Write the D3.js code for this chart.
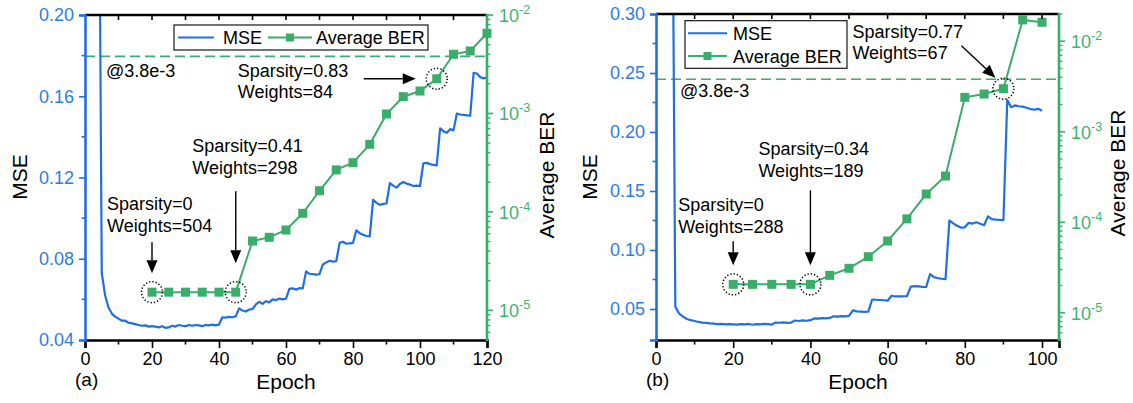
<!DOCTYPE html>
<html>
<head>
<meta charset="utf-8">
<script src="https://cdn.jsdelivr.net/npm/d3@7"></script>
<style>
  body { margin: 0; background: #fff; }
  svg { display: block; }
  text { font-family: "Liberation Sans", Arial, Helvetica, sans-serif; }
</style>
</head>
<body>
<svg id="chart" width="1133" height="403"></svg>
<script>
// ---------------- data ----------------
// (a) per-epoch MSE, epochs 1..120
const mseA = [
  0.90, 0.70, 0.50, 0.33, 0.073, 0.062, 0.056, 0.053, 0.0515, 0.0505,
  0.0495, 0.0495, 0.0485, 0.0482, 0.0478, 0.0474, 0.0470, 0.0472, 0.0466, 0.0468,
  0.0466, 0.0462, 0.0468, 0.0460, 0.0462, 0.0470, 0.0466, 0.0474, 0.0470, 0.0468,
  0.0474, 0.0470, 0.0474, 0.0472, 0.0468, 0.0474, 0.0472, 0.0476, 0.0472, 0.0476,
  0.0512, 0.0510, 0.0514, 0.0512, 0.0516, 0.0556, 0.0545, 0.0540, 0.0550, 0.0552,
  0.0575, 0.0588, 0.0578, 0.0592, 0.0585, 0.0600, 0.0596, 0.0604, 0.0600, 0.0603,
  0.0652, 0.0654, 0.0648, 0.0655, 0.0654, 0.0738, 0.0726, 0.0724, 0.0722, 0.0724,
  0.0772, 0.0782, 0.0790, 0.0786, 0.0788, 0.0878, 0.0884, 0.0874, 0.0876, 0.0878,
  0.0940, 0.0926, 0.0918, 0.0912, 0.0910, 0.1090, 0.1075, 0.1065, 0.1070, 0.1072,
  0.1172, 0.1160, 0.1150, 0.1168, 0.1178, 0.1170, 0.1165, 0.1158, 0.1160, 0.1158,
  0.1270, 0.1272, 0.1266, 0.1262, 0.1260, 0.1442, 0.1428, 0.1420, 0.1438, 0.1432,
  0.1515, 0.1510, 0.1508, 0.1506, 0.1504, 0.1715, 0.1712, 0.1694, 0.1688, 0.1692
];
// (a) average BER, sampled every 5 epochs
const berEpochsA = [20, 25, 30, 35, 40, 45, 50, 55, 60, 65, 70, 75, 80, 85, 90, 95, 100, 105, 110, 115, 120];
const berA = [
  1.53e-5, 1.53e-5, 1.53e-5, 1.53e-5, 1.53e-5, 1.53e-5, 5.06e-5, 5.52e-5, 6.55e-5, 9.68e-5,
  1.64e-4, 2.67e-4, 3.16e-4, 4.86e-4, 9.87e-4, 1.48e-3, 1.69e-3, 2.25e-3, 3.99e-3, 4.31e-3, 6.52e-3
];

// (b) per-epoch MSE, epochs 1..100
const mseB = [
  0.90, 0.75, 0.62, 0.55, 0.052, 0.046, 0.0435, 0.0415, 0.0405, 0.0398,
  0.0390, 0.0385, 0.0382, 0.0378, 0.0376, 0.0372, 0.0374, 0.0370, 0.0372, 0.0370,
  0.0368, 0.0372, 0.0369, 0.0373, 0.0366, 0.0372, 0.0370, 0.0374, 0.0372, 0.0368,
  0.0385, 0.0383, 0.0386, 0.0382, 0.0385, 0.0402, 0.0398, 0.0404, 0.0400, 0.0405,
  0.0420, 0.0418, 0.0422, 0.0420, 0.0424, 0.0438, 0.0435, 0.0440, 0.0437, 0.0442,
  0.0488, 0.0480, 0.0478, 0.0476, 0.0478, 0.0580, 0.0578, 0.0576, 0.0574, 0.0570,
  0.0612, 0.0606, 0.0608, 0.0606, 0.0608, 0.0690, 0.0694, 0.0692, 0.0688, 0.0686,
  0.0796, 0.0770, 0.0762, 0.0756, 0.0752, 0.1250, 0.1225, 0.1205, 0.1190, 0.1192,
  0.1230, 0.1224, 0.1235, 0.1222, 0.1210, 0.1285, 0.1262, 0.1258, 0.1255, 0.1252,
  0.2270, 0.2210, 0.2225, 0.2218, 0.2215, 0.2205, 0.2195, 0.2190, 0.2196, 0.2180
];
// (b) average BER, sampled every 5 epochs
const berEpochsB = [20, 25, 30, 35, 40, 45, 50, 55, 60, 65, 70, 75, 80, 85, 90, 95, 100];
const berB = [
  2.06e-5, 2.06e-5, 2.06e-5, 2.06e-5, 2.06e-5, 2.59e-5, 3.10e-5, 4.16e-5, 6.21e-5, 1.09e-4,
  2.05e-4, 3.24e-4, 2.40e-3, 2.61e-3, 2.99e-3, 1.72e-2, 1.62e-2
];

// axis ticks
const xTicksA = [0, 20, 40, 60, 80, 100, 120];
const xTicksB = [0, 20, 40, 60, 80, 100];
const mseTicksA = [0.04, 0.08, 0.12, 0.16, 0.20];
const mseTicksB = [0.05, 0.10, 0.15, 0.20, 0.25, 0.30];
const berTicks = [1e-5, 1e-4, 1e-3, 1e-2];

// FEC threshold and annotations
const thresholdBER = 3.8e-3;
const thresholdLabel = "@3.8e-3";
const notesA = [
  { epoch: 20, lines: ["Sparsity=0", "Weights=504"] },
  { epoch: 45, lines: ["Sparsity=0.41", "Weights=298"] },
  { epoch: 105, lines: ["Sparsity=0.83", "Weights=84"] }
];
const notesB = [
  { epoch: 20, lines: ["Sparsity=0", "Weights=288"] },
  { epoch: 40, lines: ["Sparsity=0.34", "Weights=189"] },
  { epoch: 90, lines: ["Sparsity=0.77", "Weights=67"] }
];
const seriesNames = ["MSE", "Average BER"];
const axisTitles = { x: "Epoch", left: "MSE", right: "Average BER" };
const panelTags = ["(a)", "(b)"];

// ---------------- styling ----------------
const BLUE = "#1f6fe6";
const BLUE_TXT = "#2a7de8";
const GREEN = "#3aad6a";
const GREEN_TXT = "#3fb370";
const FONT = 18;

const svg = d3.select("#chart");

function drawPanel(p) {
  const g = svg.append("g");
  const x = d3.scaleLinear().domain(p.xDomain).range([p.left, p.right]);
  const yM = d3.scaleLinear().domain(p.mseDomain).range([p.bottom, p.top]);
  const yB = d3.scaleLog().domain(p.berDomain).range([p.bottom, p.top]);

  const clipId = "clip" + p.id;
  svg.append("defs").append("clipPath").attr("id", clipId)
    .append("rect").attr("x", p.left).attr("y", p.top)
    .attr("width", p.right - p.left).attr("height", p.bottom - p.top);

  // threshold
  g.append("line")
    .attr("x1", p.left).attr("x2", p.right)
    .attr("y1", yB(thresholdBER)).attr("y2", yB(thresholdBER))
    .attr("stroke", GREEN).attr("stroke-width", 1.6).attr("stroke-dasharray", "10,5");
  g.append("text").attr("x", p.thrLabel[0]).attr("y", p.thrLabel[1])
    .attr("font-size", FONT).attr("fill", "#000").text(thresholdLabel);

  // MSE curve
  const mseLine = d3.line().x((d, i) => x(i + 1)).y(d => yM(d));
  g.append("path").datum(p.mse)
    .attr("clip-path", `url(#${clipId})`)
    .attr("fill", "none").attr("stroke", BLUE).attr("stroke-width", 2.2)
    .attr("stroke-linejoin", "round").attr("d", mseLine);

  // BER curve with square markers
  const berPts = p.berEpochs.map((e, i) => [e, p.ber[i]]);
  const berLine = d3.line().x(d => x(d[0])).y(d => yB(d[1]));
  g.append("path").datum(berPts)
    .attr("clip-path", `url(#${clipId})`)
    .attr("fill", "none").attr("stroke", GREEN).attr("stroke-width", 2).attr("d", berLine);
  g.selectAll(null).data(berPts).enter().append("rect")
    .attr("x", d => x(d[0]) - 4.5).attr("y", d => yB(d[1]) - 4.5)
    .attr("width", 9).attr("height", 9).attr("fill", GREEN);

  // axes
  const bottomAxis = d3.axisBottom(x).tickValues(p.xTicks).tickSize(8).tickPadding(4).tickFormat(d3.format("d"));
  const gb = g.append("g").attr("transform", `translate(0,${p.bottom})`).call(bottomAxis);
  gb.select(".domain").attr("stroke", "#000").attr("stroke-width", 2.6);
  gb.selectAll(".tick line").attr("stroke", "#000").attr("stroke-width", 1.6);
  gb.selectAll(".tick text").attr("font-size", FONT).attr("fill", "#000").attr("font-family", null);
  const minorX = d3.range(p.xTicks[0] + 10, p.xDomain[1], 20);
  g.selectAll(null).data(minorX).enter().append("line")
    .attr("x1", d => x(d)).attr("x2", d => x(d))
    .attr("y1", p.bottom).attr("y2", p.bottom + 4.5)
    .attr("stroke", "#000").attr("stroke-width", 1.6);

  // top frame with inward ticks
  g.append("line").attr("x1", p.left).attr("x2", p.right).attr("y1", p.top).attr("y2", p.top)
    .attr("stroke", "#000").attr("stroke-width", 2.6);
  const topTicks = d3.range(10, p.xDomain[1] - 2, 10);
  g.selectAll(null).data(topTicks).enter().append("line")
    .attr("x1", d => x(d)).attr("x2", d => x(d))
    .attr("y1", p.top).attr("y2", p.top + 5)
    .attr("stroke", "#000").attr("stroke-width", 1.6);

  // left MSE axis
  const leftAxis = d3.axisLeft(yM).tickValues(p.mseTicks).tickSize(6).tickPadding(5).tickFormat(d3.format(".2f"));
  const gl = g.append("g").attr("transform", `translate(${p.left},0)`).call(leftAxis);
  gl.select(".domain").attr("stroke", BLUE).attr("stroke-width", 2.6);
  gl.selectAll(".tick line").attr("stroke", BLUE).attr("stroke-width", 1.6);
  gl.selectAll(".tick text").attr("font-size", FONT).attr("fill", BLUE_TXT).attr("font-family", null);
  g.selectAll(null).data(p.mseMinor).enter().append("line")
    .attr("x1", p.left - 3.5).attr("x2", p.left)
    .attr("y1", d => yM(d)).attr("y2", d => yM(d))
    .attr("stroke", BLUE).attr("stroke-width", 1.6);

  // right BER axis (log)
  const gr = g.append("g").attr("transform", `translate(${p.right},0)`);
  gr.append("line").attr("y1", p.top - 1).attr("y2", p.bottom + 1.3)
    .attr("stroke", GREEN).attr("stroke-width", 2.6);
  const minorB = [];
  for (let k = -6; k <= -2; k++) for (let m = 2; m <= 9; m++) {
    const v = m * Math.pow(10, k);
    if (v >= p.berDomain[0] && v <= p.berDomain[1]) minorB.push(v);
  }
  gr.selectAll(null).data(minorB).enter().append("line")
    .attr("x1", 0).attr("x2", 3.5).attr("y1", d => yB(d)).attr("y2", d => yB(d))
    .attr("stroke", GREEN).attr("stroke-width", 1.4);
  gr.selectAll(null).data(berTicks).enter().append("line")
    .attr("x1", 0).attr("x2", 6).attr("y1", d => yB(d)).attr("y2", d => yB(d))
    .attr("stroke", GREEN).attr("stroke-width", 1.6);
  const lbl = gr.selectAll(null).data(berTicks).enter().append("text")
    .attr("x", 12).attr("y", d => yB(d) + 7)
    .attr("font-size", FONT).attr("fill", GREEN_TXT);
  lbl.append("tspan").text("10");
  lbl.append("tspan").attr("dy", -8).attr("font-size", 12.5)
    .text(d => "-" + Math.round(-Math.log10(d)));

  // axis titles
  g.append("text").attr("x", p.xTitle[0]).attr("y", p.xTitle[1]).attr("text-anchor", "middle")
    .attr("font-size", 21).text(axisTitles.x);
  g.append("text").attr("transform", `translate(${p.lTitle[0]},${p.lTitle[1]}) rotate(-90)`)
    .attr("text-anchor", "middle").attr("font-size", 21).text(axisTitles.left);
  g.append("text").attr("transform", `translate(${p.rTitle[0]},${p.rTitle[1]}) rotate(-90)`)
    .attr("text-anchor", "middle").attr("font-size", 21).text(axisTitles.right);
  g.append("text").attr("x", p.tag[0]).attr("y", p.tag[1]).attr("font-size", 19).text(p.tagText);

  // legend
  const L = p.legend;
  const lg = g.append("g");
  lg.append("rect").attr("x", L.x).attr("y", L.y).attr("width", L.w).attr("height", L.h)
    .attr("fill", "#fff").attr("stroke", "#000").attr("stroke-width", 1.1);
  L.items.forEach((it, i) => {
    const color = i === 0 ? BLUE : GREEN;
    lg.append("line").attr("x1", it.x1).attr("x2", it.x2).attr("y1", it.y).attr("y2", it.y)
      .attr("stroke", color).attr("stroke-width", 2);
    if (i === 1) {
      lg.append("rect").attr("x", (it.x1 + it.x2) / 2 - 4).attr("y", it.y - 4)
        .attr("width", 8).attr("height", 8).attr("fill", GREEN);
    }
    lg.append("text").attr("x", it.tx).attr("y", it.y + 6.5).attr("font-size", FONT)
      .text(seriesNames[i]);
  });

  // annotations: dotted ring, arrow, two-line label
  p.notes.forEach((n, i) => {
    const idx = p.berEpochs.indexOf(n.epoch);
    const cx = x(n.epoch), cy = yB(p.ber[idx]);
    const s = p.noteStyle[i];
    g.append("circle").attr("cx", cx).attr("cy", cy).attr("r", 10.5)
      .attr("fill", "none").attr("stroke", "#000").attr("stroke-width", 1.5)
      .attr("stroke-dasharray", "1.3,2");
    const x1 = cx + s.arrow[0], y1 = cy + s.arrow[1];
    const x2 = cx + s.arrow[2], y2 = cy + s.arrow[3];
    const ang = Math.atan2(y2 - y1, x2 - x1);
    const hl = 13, hw = 5.5;
    const bx = x2 - hl * Math.cos(ang), by = y2 - hl * Math.sin(ang);
    g.append("line").attr("x1", x1).attr("y1", y1).attr("x2", bx).attr("y2", by)
      .attr("stroke", "#000").attr("stroke-width", 1.4);
    const nx = -Math.sin(ang), ny = Math.cos(ang);
    g.append("path")
      .attr("d", `M${x2},${y2}L${bx + nx * hw},${by + ny * hw}L${bx - nx * hw},${by - ny * hw}Z`)
      .attr("fill", "#000");
    n.lines.forEach((t, j) => {
      g.append("text").attr("x", cx + s.text[0]).attr("y", cy + s.text[1] + j * 21.7)
        .attr("font-size", FONT).text(t);
    });
  });
}

drawPanel({
  id: "A", left: 85, right: 487, top: 15, bottom: 340,
  xDomain: [0, 120], mseDomain: [0.04, 0.20], berDomain: [5e-6, 1e-2],
  mse: mseA, berEpochs: berEpochsA, ber: berA,
  xTicks: xTicksA, mseTicks: mseTicksA, mseMinor: [0.06, 0.10, 0.14, 0.18],
  thrLabel: [106, 77],
  xTitle: [286, 389], lTitle: [27, 177], rTitle: [554, 175],
  tag: [75, 386], tagText: panelTags[0],
  legend: { x: 174, y: 25, w: 254, h: 25,
    items: [ { x1: 178, x2: 214, y: 37.5, tx: 223 }, { x1: 268, x2: 312, y: 37.5, tx: 316 } ] },
  notes: notesA,
  noteStyle: [
    { text: [-45, -82], arrow: [0, -50, 0, -19] },
    { text: [-43.5, -140], arrow: [0, -101, 0, -29] },
    { text: [-199, -2], arrow: [-73, 0, -21, 0] }
  ]
});

drawPanel({
  id: "B", left: 656, right: 1059, top: 14, bottom: 340,
  xDomain: [0, 104.4], mseDomain: [0.0237, 0.30], berDomain: [5e-6, 2e-2],
  mse: mseB, berEpochs: berEpochsB, ber: berB,
  xTicks: xTicksB, mseTicks: mseTicksB, mseMinor: [0.075, 0.125, 0.175, 0.225, 0.275],
  thrLabel: [680, 97],
  xTitle: [858, 389], lTitle: [597, 177], rTitle: [1125, 173],
  tag: [646, 386], tagText: panelTags[1],
  legend: { x: 685, y: 20.7, w: 162, h: 47.6,
    items: [ { x1: 688, x2: 727, y: 33.3, tx: 733 }, { x1: 688, x2: 727, y: 56, tx: 733 } ] },
  notes: notesB,
  noteStyle: [
    { text: [-55, -73], arrow: [0, -43, 0, -19] },
    { text: [-52, -129], arrow: [0, -94, 0, -19] },
    { text: [-151, -51], arrow: [-42, -43, -8, -11] }
  ]
});
</script>
</body>
</html>
